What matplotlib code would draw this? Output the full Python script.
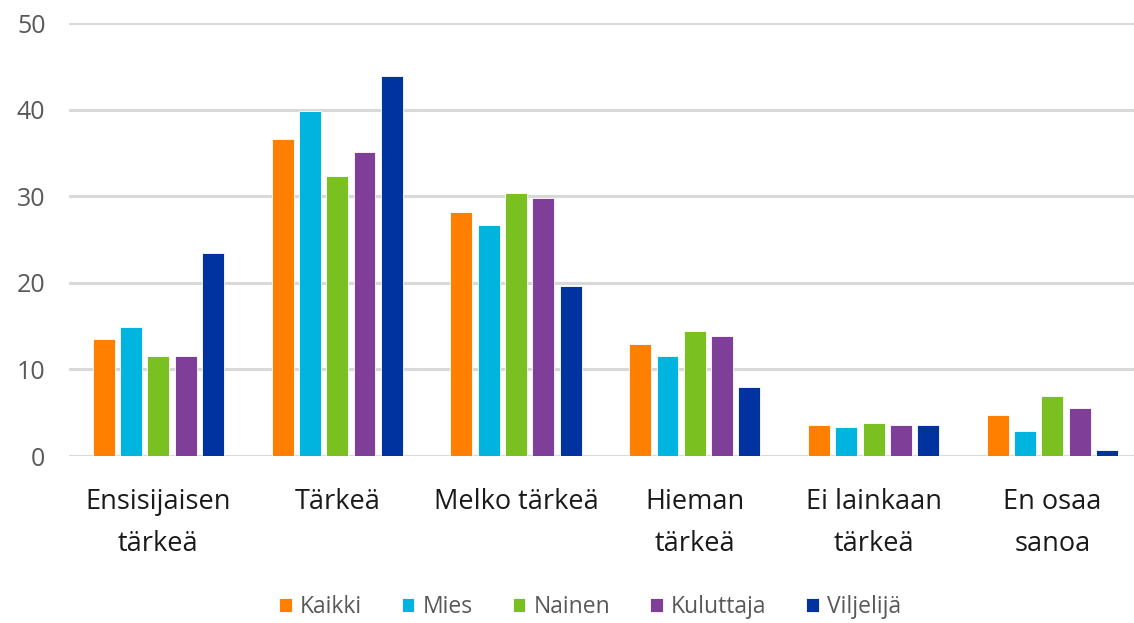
import matplotlib
matplotlib.use("Agg")
import matplotlib.pyplot as plt
import numpy as np

categories = ["Ensisijaisen\ntärkeä", "Tärkeä", "Melko tärkeä", "Hieman\ntärkeä", "Ei lainkaan\ntärkeä", "En osaa\nsanoa"]
series_names = ["Kaikki", "Mies", "Nainen", "Kuluttaja", "Viljelijä"]
kaikki = [13.5, 36.6, 28.2, 12.9, 3.6, 4.7]
mies = [14.9, 39.9, 26.7, 11.5, 3.4, 2.9]
nainen = [11.6, 32.4, 30.4, 14.4, 3.8, 6.9]
kuluttaja = [11.5, 35.1, 29.8, 13.9, 3.6, 5.5]
viljelija = [23.4, 43.9, 19.7, 8.0, 3.6, 0.7]
y_ticks = [0, 10, 20, 30, 40, 50]

colors = ["#FF8000", "#00B4E0", "#7AC021", "#7F3F98", "#0033A0"]
series = [kaikki, mies, nainen, kuluttaja, viljelija]

plt.rcParams['font.family'] = ['Open Sans', 'DejaVu Sans']

W, H = 1134, 623
fig = plt.figure(figsize=(W/100, H/100), dpi=100)
left = 69 / W
bottom = (H - 456) / H
top = (H - 23.3) / H
ax = fig.add_axes([left, bottom, 1 - left, top - bottom])

x = np.arange(len(categories))
step = 0.1527
width = 0.122
for i, (name, vals, c) in enumerate(zip(series_names, series, colors)):
    ax.bar(x + (i - 2) * step, vals, width=width, color=c, label=name,
           edgecolor="white", linewidth=0.6, zorder=3)

ax.set_ylim(0, 50)
ax.set_xlim(-0.5, -0.5 + (W - 69) / 178.8)
ax.set_yticks(y_ticks)
ax.set_yticklabels([str(t) for t in y_ticks], fontsize=18, color="#595959")
ax.set_xticks(x)
ax.set_xticklabels(categories, fontsize=19.5, color="#1a1a1a", linespacing=1.65)
ax.tick_params(axis='both', length=0)
ax.tick_params(axis='y', pad=17)
ax.tick_params(axis='x', pad=23)
for s in ax.spines.values():
    s.set_visible(False)
ax.yaxis.grid(True, color="#d9d9d9", linewidth=2.2, zorder=0)
for lab in ax.get_xticklabels():
    lab.set_verticalalignment('top')

ax.legend(loc='center', bbox_to_anchor=(590 / W, 1 - 607 / H), bbox_transform=fig.transFigure,
          ncol=5, frameon=False, fontsize=16.5, handlelength=0.55, handleheight=0.55,
          handletextpad=0.35, columnspacing=1.75, labelcolor="#595959")

fig.savefig("out.png", dpi=100)
